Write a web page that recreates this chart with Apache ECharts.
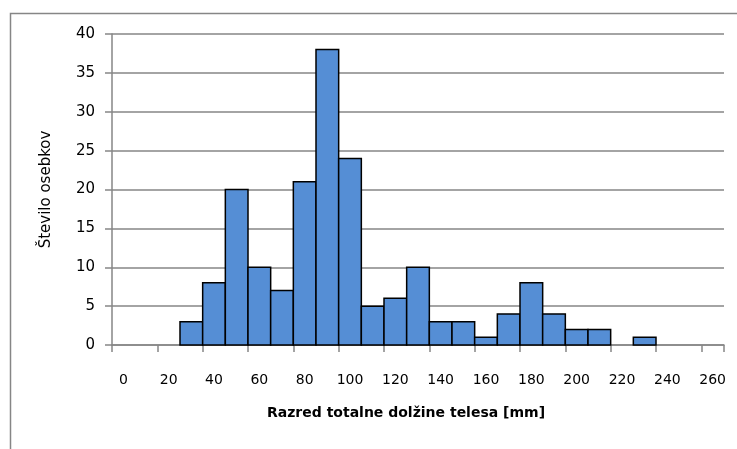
<!DOCTYPE html>
<html>
<head>
<meta charset="utf-8">
<script src="https://cdn.jsdelivr.net/npm/echarts@6/dist/echarts.min.js"></script>
<style>html,body{margin:0;padding:0;background:#fff;}#c{width:737px;height:449px;}</style>
</head>
<body>
<div id="c"></div>
<script>
const categories = ['0','10','20','30','40','50','60','70','80','90','100','110','120','130','140','150','160','170','180','190','200','210','220','230','240','250','260'];
const counts = [0,0,0,3,8,20,10,7,21,38,24,5,6,10,3,3,1,4,8,4,2,2,0,1,0,0,0];
const yTicks = [0,5,10,15,20,25,30,35,40];
const xTitle = 'Razred totalne dolžine telesa [mm]';
const yTitle = 'Število osebkov';

const chart = echarts.init(document.getElementById('c'), null, {renderer:'canvas'});
const font = 'DejaVu Sans';
chart.setOption({
  animation: false,
  backgroundColor: '#fff',
  grid: {left: 112, right: 13, top: 34, bottom: 104},
  graphic: [{
    type: 'rect', left: 8, top: 11, silent: true,
    shape: {width: 740, height: 450},
    style: {fill: 'none', stroke: '#868686', lineWidth: 1.5}
  }],
  xAxis: {
    type: 'category',
    data: categories,
    boundaryGap: true,
    name: xTitle,
    nameLocation: 'middle',
    nameGap: 61,
    nameTextStyle: {fontFamily: font, fontSize: 14, fontWeight: 'bold', color: '#000', padding: [0,24,0,0]},
    axisLine: {lineStyle: {color: '#868686', width: 1.5}},
    axisTick: {show: true, length: 7, lineStyle: {color: '#868686', width: 1.5}},
    axisLabel: {interval: 1, margin: 28, fontFamily: font, fontSize: 14, color: '#000'},
    splitLine: {show: false}
  },
  yAxis: {
    type: 'value',
    min: yTicks[0], max: yTicks[yTicks.length-1], interval: 5,
    name: yTitle,
    nameLocation: 'middle',
    nameGap: 58,
    nameTextStyle: {fontFamily: font, fontSize: 15, color: '#000'},
    axisLine: {show: true, lineStyle: {color: '#868686', width: 1.5}},
    axisTick: {show: true, length: 7, lineStyle: {color: '#868686', width: 1.5}},
    axisLabel: {margin: 17, fontFamily: font, fontSize: 15, color: '#000'},
    splitLine: {show: true, lineStyle: {color: '#868686', width: 1.5}}
  },
  series: [{
    type: 'custom',
    data: counts.map((v, i) => [i, v]),
    encode: {x: 0, y: 1},
    renderItem: function (params, api) {
      const v = api.value(1);
      if (!v) return null;
      const top = api.coord([api.value(0), v]);
      const base = api.coord([api.value(0), 0]);
      const w = api.size([1, 0])[0];
      return {
        type: 'rect',
        shape: {x: top[0] - w / 2, y: top[1], width: w, height: base[1] - top[1]},
        style: {fill: '#558ED5', stroke: '#000', lineWidth: 1.5}
      };
    }
  }]
});
</script>
</body>
</html>
